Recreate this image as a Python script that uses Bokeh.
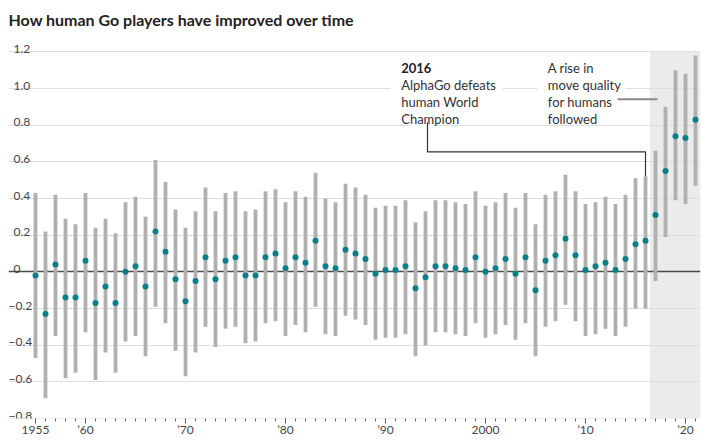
from bokeh.plotting import figure
from bokeh.models import Range1d, FixedTicker, Label, BoxAnnotation
from bokeh.embed import file_html
from bokeh.resources import INLINE

# ---- data ----
years = list(range(1955, 2022))
highs = [0.43, 0.22, 0.42, 0.29, 0.26, 0.43, 0.24, 0.29, 0.21, 0.38,
         0.41, 0.30, 0.61, 0.49, 0.34, 0.24, 0.33, 0.46, 0.33, 0.43,
         0.44, 0.33, 0.34, 0.44, 0.45, 0.38, 0.44, 0.41, 0.54, 0.40,
         0.38, 0.48, 0.46, 0.42, 0.35, 0.36, 0.36, 0.39, 0.27, 0.33,
         0.39, 0.39, 0.38, 0.37, 0.44, 0.36, 0.38, 0.43, 0.35, 0.43,
         0.26, 0.42, 0.44, 0.53, 0.44, 0.37, 0.38, 0.41, 0.37, 0.42,
         0.51, 0.52, 0.66, 0.90, 1.10, 1.08, 1.18]
means = [-0.02, -0.23, 0.04, -0.14, -0.14, 0.06, -0.17, -0.08, -0.17, 0.00,
         0.03, -0.08, 0.22, 0.11, -0.04, -0.16, -0.05, 0.08, -0.04, 0.06,
         0.08, -0.02, -0.02, 0.08, 0.10, 0.02, 0.08, 0.05, 0.17, 0.03,
         0.02, 0.12, 0.10, 0.07, -0.01, 0.01, 0.01, 0.03, -0.09, -0.03,
         0.03, 0.03, 0.02, 0.01, 0.08, 0.00, 0.02, 0.07, -0.01, 0.08,
         -0.10, 0.06, 0.09, 0.18, 0.09, 0.01, 0.03, 0.05, 0.01, 0.07,
         0.15, 0.17, 0.31, 0.55, 0.74, 0.73, 0.83]
lows = [-0.47, -0.69, -0.35, -0.58, -0.55, -0.33, -0.59, -0.44, -0.55, -0.38,
        -0.35, -0.46, -0.19, -0.28, -0.43, -0.57, -0.44, -0.30, -0.41, -0.31,
        -0.30, -0.39, -0.38, -0.28, -0.27, -0.35, -0.29, -0.33, -0.19, -0.34,
        -0.35, -0.24, -0.26, -0.29, -0.37, -0.36, -0.36, -0.34, -0.46, -0.40,
        -0.33, -0.33, -0.34, -0.35, -0.28, -0.36, -0.34, -0.29, -0.37, -0.28,
        -0.46, -0.30, -0.27, -0.18, -0.27, -0.35, -0.34, -0.31, -0.35, -0.30,
        -0.20, -0.20, -0.05, 0.19, 0.39, 0.37, 0.47]

y_ticks = [-0.8, -0.6, -0.4, -0.2, 0.2, 0.4, 0.6, 0.8, 1.0, 1.2]
y_tick_labels = ["\u22120.8", "\u22120.6", "\u22120.4", "\u22120.2", "0.2", "0.4", "0.6", "0.8", "1.0", "1.2"]
x_major = [1955, 1960, 1970, 1980, 1990, 2000, 2010, 2020]
x_labels = ["1955", "\u201960", "\u201970", "\u201980", "\u201990", "2000", "\u201910", "\u201920"]

FONT = "Lato"
TEAL = "#0b7f88"
BAR = "#b0b0b0"

X0, X1 = 1952.3, 2021.5
Y0, Y1 = -0.8, 1.48
p = figure(width=712, height=444, x_range=Range1d(X0, X1), y_range=Range1d(Y0, Y1),
           output_backend="svg", toolbar_location=None, y_axis_location=None,
           min_border_left=8, min_border_right=12, min_border_top=0, min_border_bottom=26)
p.outline_line_color = None
p.grid.visible = False
p.background_fill_color = "white"
p.border_fill_color = "white"

# shaded post-AlphaGo period
p.add_layout(BoxAnnotation(left=2016.45, right=X1, bottom=-0.8, top=1.2,
                           fill_color="#ebebeb", fill_alpha=1, line_color=None, level="underlay"))

# gridlines
p.hspan(y=y_ticks, line_color="#dedede", line_width=1)

# white backgrounds behind annotation text
p.quad(left=[1990.5, 2005.2, 1992.5], right=[2001.7, 2014.0, 1994.8],
       bottom=[0.818, 0.818, 0.785], top=[1.185, 1.185, 0.815],
       fill_color="white", line_color=None)

# zero line
p.hspan(y=[0], line_color="#4a4a4a", line_width=1.4)

# ranges and means
p.vbar(x=years, bottom=lows, top=highs, width=0.38, fill_color=BAR, line_color=None)
p.scatter(x=years, y=means, size=6, fill_color=TEAL, line_color=None)

# connectors
p.line(x=[1994.2, 1994.2, 2016, 2016], y=[0.814, 0.654, 0.654, 0.52], line_color="#333333", line_width=1.2)
p.line(x=[2013.2, 2017.2], y=[0.942, 0.942], line_color="#8a8a8a", line_width=2)

# y tick labels (inside plot, above gridlines)
for v, t in zip(y_ticks + [0], y_tick_labels + ["0"]):
    p.add_layout(Label(x=X0, y=v, x_offset=0 if t.startswith("\u2212") else 5, y_offset=3,
                       text=t, text_font=FONT, text_font_size="12px", text_color="#444444",
                       text_baseline="alphabetic", text_align="left"))

# title
p.add_layout(Label(x=X0, y=Y1, y_offset=-18.5, text="How human Go players have improved over time",
                   text_font=FONT, text_font_size="16px", text_font_style="bold",
                   text_color="#222222", text_baseline="alphabetic"))

# annotations
ann1 = ["2016", "AlphaGo defeats", "human World", "Champion"]
for i, t in enumerate(ann1):
    p.add_layout(Label(x=1991.57, y=1.111, y_offset=-17 * i, text=t, text_font=FONT,
                       text_font_size="13px", text_font_style="bold" if i == 0 else "normal",
                       text_color="#222222" if i == 0 else "#333333", text_baseline="alphabetic"))
ann2 = ["A rise in", "move quality", "for humans", "followed"]
for i, t in enumerate(ann2):
    p.add_layout(Label(x=2006.23, y=1.111, y_offset=-17 * i, text=t, text_font=FONT,
                       text_font_size="13px", text_color="#333333", text_baseline="alphabetic"))

# x axis
ax = p.xaxis[0]
ax.ticker = FixedTicker(ticks=x_major, minor_ticks=years)
ax.major_label_overrides = {k: v for k, v in zip(x_major, x_labels)}
ax.axis_line_color = None
ax.major_tick_in = 0
ax.major_tick_out = 5
ax.minor_tick_in = 0
ax.minor_tick_out = 3
ax.major_tick_line_color = "#555555"
ax.minor_tick_line_color = "#666666"
ax.major_tick_line_width = 1
ax.minor_tick_line_width = 1
ax.major_label_standoff = -2
ax.major_label_text_font = FONT
ax.major_label_text_font_size = "12px"
ax.major_label_text_color = "#444444"

open("out.html", "w").write(file_html(p, INLINE))
